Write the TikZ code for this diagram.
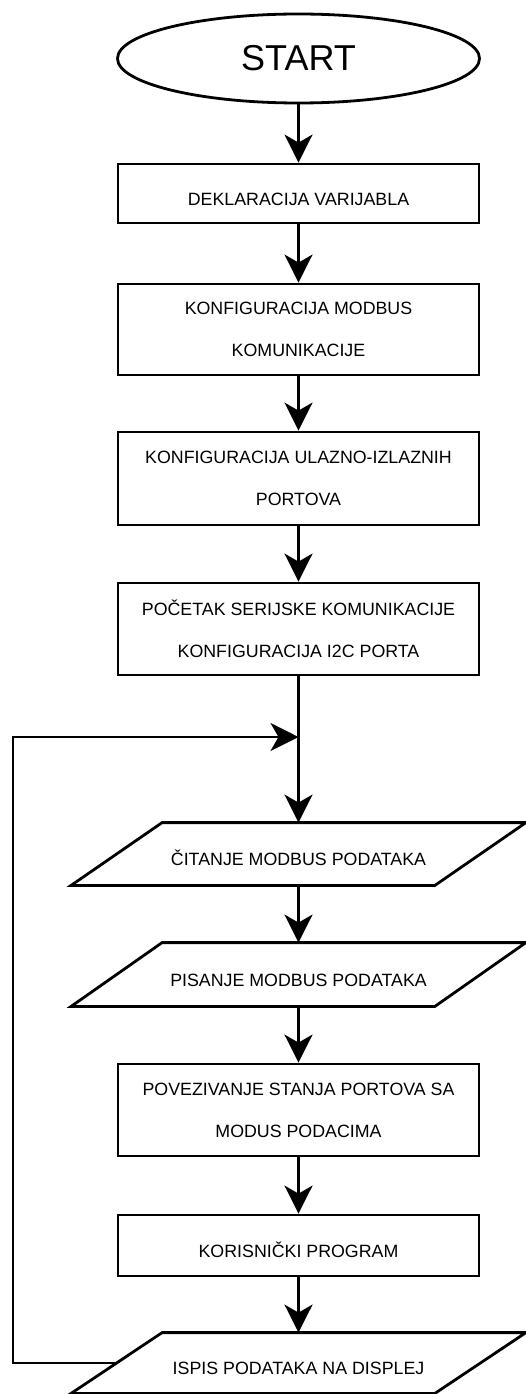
\documentclass[tikz,border=0pt]{standalone}
\usepackage{fontspec}
\setmainfont{Liberation Sans}
\usetikzlibrary{shapes.geometric,arrows.meta}
\begin{document}
\begin{tikzpicture}[x=1pt,y=-1pt,
  line width=2.8pt,
  boxfont/.style={font=\fontsize{17.8}{42}\selectfont},
  stepbox/.style={draw, rectangle, minimum width=361pt, inner sep=0pt, align=center, boxfont, execute at begin node={\rule{0pt}{24pt}}},
  iobox/.style={rectangle, minimum width=361pt, inner sep=0pt, align=center, boxfont, execute at begin node={\rule{0pt}{24pt}}},
  startnode/.style={draw, ellipse, minimum width=362pt, minimum height=89pt, inner sep=0pt, font=\fontsize{36}{40}\selectfont},
  arr/.style={-{Stealth[length=28pt,width=28pt,inset=8pt]}}]
\useasboundingbox (0,0) rectangle (525,1394);
\fill[white] (0,0) rectangle (525,1394);

\node[startnode] (s) at (298.5,58.5) {START};
\node[stepbox, minimum height=59pt] (b1) at (298.5,193.5) {DEKLARACIJA VARIJABLA};
\node[stepbox, minimum height=91pt] (b2) at (298.5,329.5) {KONFIGURACIJA MODBUS\\KOMUNIKACIJE};
\node[stepbox, minimum height=93pt] (b3) at (298.5,478.5) {KONFIGURACIJA ULAZNO-IZLAZNIH\\PORTOVA};
\node[stepbox, minimum height=92pt] (b4) at (298.5,629) {POČETAK SERIJSKE KOMUNIKACIJE\\KONFIGURACIJA I2C PORTA};
\node[iobox, minimum height=60pt] (p1) at (298.5,854) {ČITANJE MODBUS PODATAKA};
\node[iobox, minimum height=61pt] (p2) at (298.5,974.5) {PISANJE MODBUS PODATAKA};
\node[stepbox, minimum height=92pt] (b5) at (298.5,1110) {POVEZIVANJE STANJA PORTOVA SA\\MODUS PODACIMA};
\node[stepbox, minimum height=61pt] (b6) at (298.5,1245.5) {KORISNIČKI PROGRAM};
\node[iobox, minimum height=58pt] (p3) at (298.5,1363) {ISPIS PODATAKA NA DISPLEJ};

\foreach \n in {p1,p2,p3}
  \draw ([xshift=45.5pt]\n.north west) -- ([xshift=45.5pt]\n.north east)
     -- ([xshift=-45.5pt]\n.south east) -- ([xshift=-45.5pt]\n.south west) -- cycle;

\coordinate (lc) at (13,737);
\coordinate (j) at (298.5,737);

\draw[arr] (s) -- (b1);
\draw[arr] (b1) -- (b2);
\draw[arr] (b2) -- (b3);
\draw[arr] (b3) -- (b4);
\draw[arr] (b4) -- (p1);
\draw[arr] (p1) -- (p2);
\draw[arr] (p2) -- (b5);
\draw[arr] (b5) -- (b6);
\draw[arr] (b6) -- (p3);
\draw[arr] (p3.west) -| (lc) -- (j);
\end{tikzpicture}
\end{document}
